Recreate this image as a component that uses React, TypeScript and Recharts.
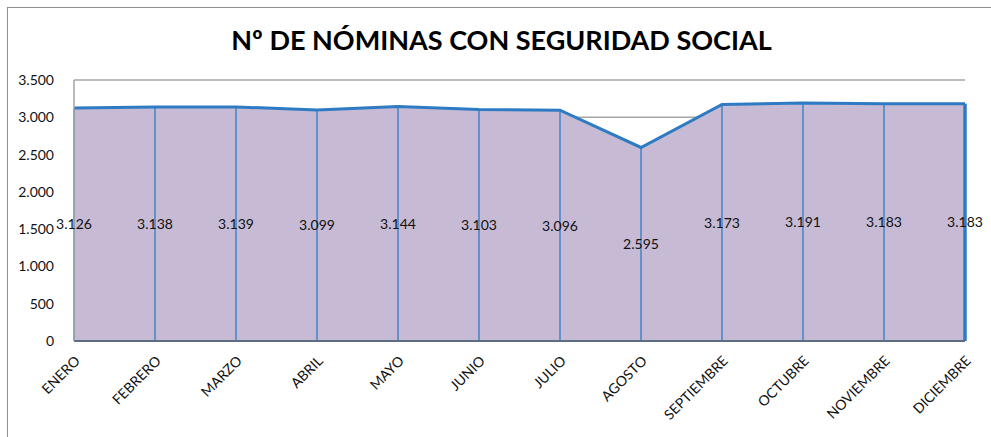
import { AreaChart, Area, Line, XAxis, YAxis, CartesianGrid, ReferenceLine, LabelList } from "recharts";

const months = [
  "ENERO",
  "FEBRERO",
  "MARZO",
  "ABRIL",
  "MAYO",
  "JUNIO",
  "JULIO",
  "AGOSTO",
  "SEPTIEMBRE",
  "OCTUBRE",
  "NOVIEMBRE",
  "DICIEMBRE",
];
const nominas = [3126, 3138, 3139, 3099, 3144, 3103, 3096, 2595, 3173, 3191, 3183, 3183];
const yTicks = [0, 500, 1000, 1500, 2000, 2500, 3000, 3500];

const FONT = "Lato, 'Open Sans', sans-serif";
const fillColor = "#c6bad4";
const blue = "#2e7bc4";

// label sits halfway up each column, like the excel "center" label
const data = months.map((m, i) => ({ m, v: nominas[i], mid: nominas[i] / 2 }));

function fmt(n: number) {
  return String(Math.round(n)).replace(/\B(?=(\d{3})+(?!\d))/g, ".");
}

function MonthTick(props: any) {
  const { x, y, payload } = props;
  return (
    <g transform={`translate(${x + 4},${y + 10}) rotate(-45)`}>
      <text x={0} y={0} textAnchor="end" fontFamily={FONT} fontSize={14} fill="#111" dy={4}>
        {payload.value}
      </text>
    </g>
  );
}

export default function App() {
  return (
    <div style={{ position: "absolute", left: 0, top: 0, width: 991, height: 437, overflow: "hidden", background: "#fff" }}>
      <div
        style={{
          position: "absolute",
          left: 7,
          top: 7,
          width: 1000,
          height: 500,
          border: "1px solid #8f8f8f",
        }}
      />
      <div
        style={{
          position: "absolute",
          left: 0,
          top: 23,
          width: 1003,
          textAlign: "center",
          fontFamily: FONT,
          fontWeight: 700,
          fontSize: 27,
          color: "#000",
        }}
      >
        Nº DE NÓMINAS CON SEGURIDAD SOCIAL
      </div>
      <div style={{ position: "absolute", left: 0, top: 0 }}>
        <AreaChart width={991} height={437} data={data} margin={{ top: 80, right: 26, left: 14, bottom: 16 }}>
          <CartesianGrid vertical={false} stroke="#a6a6a6" strokeWidth={1.5} />
          <XAxis
            dataKey="m"
            tick={MonthTick}
            tickLine={false}
            axisLine={{ stroke: "#5d6e84", strokeWidth: 2 }}
            height={80}
            interval={0}
          />
          <YAxis
            domain={[0, 3500]}
            ticks={yTicks}
            width={60}
            tickFormatter={fmt}
            tickLine={false}
            axisLine={{ stroke: "#a6a6a6", strokeWidth: 1.5 }}
            tick={{ fontFamily: FONT, fontSize: 14, fill: "#111" }}
            tickMargin={14}
          />
          <Area
            type="linear"
            dataKey="v"
            stroke={blue}
            strokeWidth={3}
            fill={fillColor}
            fillOpacity={1}
            isAnimationActive={false}
            dot={false}
            activeDot={false}
          />
          {data.map((d, i) => (
            <ReferenceLine
              key={d.m}
              segment={[
                { x: d.m, y: 0 },
                { x: d.m, y: d.v },
              ]}
              stroke={blue}
              strokeWidth={i === data.length - 1 ? 3.5 : 1.3}
            />
          ))}
          <Line
            type="linear"
            dataKey="mid"
            stroke="none"
            dot={false}
            activeDot={false}
            isAnimationActive={false}
          >
            <LabelList
              dataKey="v"
              position="center"
              formatter={(v: any) => fmt(Number(v))}
              style={{ fontFamily: FONT, fontSize: 14, fill: "#111" }}
            />
          </Line>
        </AreaChart>
      </div>
    </div>
  );
}
